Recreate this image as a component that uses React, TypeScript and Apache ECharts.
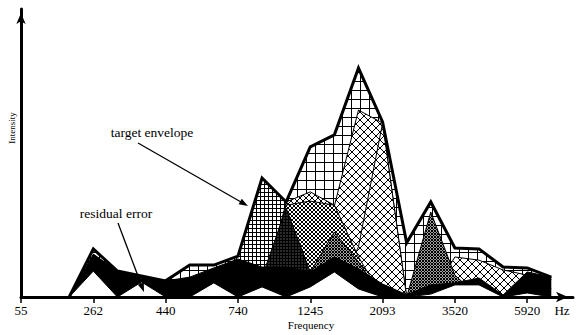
import React, { useEffect, useRef } from 'react';
import * as echarts from 'echarts';

// 23 frequency bins (3 bins per labelled tick)
const tickLabels = ['55', '262', '440', '740', '1245', '2093', '3520', '5920'];
const tickIdx = [0, 3, 6, 9, 12, 15, 18, 21];
const _ = null;

// target envelope (thick outline, coarse grid fill)
const envelope = [0, 0, 0, 16.7, 9.0, 7.3, 5.6, 11.1, 11.1, 14.2, 41.3, 33.0, 52.1, 56.3, 79.5, 60.8, 18.8, 33.0, 17.0, 16.7, 10.4, 10.1, 6.9];
// partial envelopes
const partFine = [_, _, _, _, _, _, _, _, 0, 14.2, 41.3, 33.0, 0, _, _, _, _, _, _, _, _, _, _];
const partSmallDiag = [_, _, _, _, _, _, _, _, _, _, 0, 33.0, 36.5, 31.9, 0, _, _, _, _, _, _, _, _];
const partDiagA = [_, _, _, _, _, _, _, _, _, _, _, _, 0, 31.6, 64.9, 60.4, 0, _, _, _, _, _, _];
const partDiagB = [_, _, _, _, _, _, _, _, _, _, _, _, _, 0, 17.4, 60.4, 0, _, _, _, _, _, _];
const partChecker = [_, _, _, _, _, _, _, _, _, _, 0, 31.9, 33.3, 31.9, 13.9, 0, _, _, _, _, _, _, _];
const partDark = [_, _, _, _, _, _, _, _, _, 0, 6.9, 30.9, 8.7, 0, _, _, _, _, _, _, _, _, _];
const partGrayMid = [_, _, _, _, _, _, _, _, _, _, _, _, 8.7, 22.6, 12.2, 0, _, _, _, _, _, _, _];
const partDiagRight = [_, _, _, _, _, _, _, _, _, _, _, _, _, _, _, _, _, 0, 13.9, 12.8, 9.4, 7.6, 0];
const partGrayRight = [_, _, _, _, _, _, _, _, _, _, _, _, _, _, _, _, 0, 29.5, 7.6, 0, _, _, _];
// residual error band (upper and lower edges)
const residualUpper = [0, 0, 0, 14.9, 9.0, 6.9, 5.6, 6.9, 10.1, 13.2, 10.4, 10.4, 8.7, 13.9, 9.7, 4.5, 0.8, 4.2, 4.9, 6.6, 0.7, 8.7, 6.9];
const residualLower = [0, 0, 0, 9.0, 0, 5.2, 0, 0, 4.9, 0, 3.5, 0, 3.5, 8.7, 2.8, 0, 0, 1.0, 4.2, 4.2, 0, 1.4, 0];

const FONT = '"Liberation Serif", "Times New Roman", serif';

function makeTile(size: number, paint: (x: number, y: number) => boolean, ink = '#000', paper = '#fff') {
  const c = document.createElement('canvas');
  c.width = size;
  c.height = size;
  const ctx = c.getContext('2d')!;
  ctx.fillStyle = paper;
  ctx.fillRect(0, 0, size, size);
  ctx.fillStyle = ink;
  for (let y = 0; y < size; y++) for (let x = 0; x < size; x++) if (paint(x, y)) ctx.fillRect(x, y, 1, 1);
  return { image: c.toDataURL(), repeat: 'repeat', imageWidth: size, imageHeight: size };
}

function toData(values: (number | null)[]) {
  const out: number[][] = [];
  values.forEach((v, i) => {
    if (v != null) out.push([i, v]);
  });
  return out;
}

function area(name: string, values: (number | null)[], fill: any, z: number) {
  return {
    name,
    type: 'line',
    symbol: 'none',
    silent: true,
    z,
    data: toData(values),
    lineStyle: { color: '#000', width: 1, join: 'miter' },
    areaStyle: { color: fill, opacity: 1 },
  };
}

export default function App() {
  const ref = useRef<HTMLDivElement>(null);
  useEffect(() => {
    if (!ref.current) return;
    const chart = echarts.init(ref.current, null, { renderer: 'svg' });

    const coarseGrid = makeTile(9, (x, y) => x === 0 || y === 0);
    const fineGrid = makeTile(4, (x, y) => x === 0 || y === 0);
    const coarseDiag = makeTile(8, (x, y) => x === y || x + y === 7);
    const smallDiag = makeTile(6, (x, y) => x === y || x + y === 5);
    const checker = makeTile(4, (x, y) => x === y || x + y === 3);
    const grayChecker = makeTile(3, (x, y) => x === y || x + y === 2, '#000', '#a0a0a0');
    const dark = makeTile(3, (x, y) => x === 0 || y === 0, '#000', '#2a2a2a');

    const arrowHead = (tx: number, ty: number, fx: number, fy: number, len = 9, half = 3.2) => {
      const dx = tx - fx, dy = ty - fy;
      const l = Math.sqrt(dx * dx + dy * dy);
      const ux = dx / l, uy = dy / l;
      const bx = tx - ux * len, by = ty - uy * len;
      return [
        [tx, ty],
        [bx - uy * half, by + ux * half],
        [bx + uy * half, by - ux * half],
      ];
    };

    chart.setOption({
      animation: false,
      backgroundColor: '#fff',
      grid: { left: 21, right: 4, top: 9, bottom: 38, containLabel: false, outerBoundsMode: 'none' },
      xAxis: {
        type: 'value',
        min: 0,
        max: 22.9,
        z: 100,
        axisLine: {
          show: true,
          onZero: true,
          lineStyle: { color: '#000', width: 3 },
          symbol: ['none', 'arrow'],
          symbolSize: [8, 12],
          symbolOffset: [0, -5],
        },
        axisTick: { show: true, customValues: tickIdx, length: 6, lineStyle: { color: '#000', width: 1.5 } },
        axisLabel: {
          show: true,
          customValues: tickIdx,
          formatter: (v: number) => tickLabels[Math.round(v / 3)] ?? '',
          color: '#000',
          fontFamily: FONT,
          fontSize: 13,
          margin: 7,
        },
        splitLine: { show: false },
      },
      yAxis: {
        type: 'value',
        min: 0,
        max: 100,
        z: 100,
        axisLine: {
          show: true,
          onZero: true,
          lineStyle: { color: '#000', width: 3 },
          symbol: ['none', 'arrow'],
          symbolSize: [7, 11],
          symbolOffset: [0, -4],
        },
        axisTick: { show: false },
        axisLabel: { show: false },
        splitLine: { show: false },
      },
      series: [
        area('target fill', envelope, coarseGrid, 10),
        area('fine', partFine, fineGrid, 11),
        area('small diag', partSmallDiag, smallDiag, 12),
        area('diag A', partDiagA, coarseDiag, 13),
        area('diag B', partDiagB, coarseDiag, 14),
        area('checker', partChecker, checker, 15),
        area('dark', partDark, dark, 16),
        area('gray mid', partGrayMid, grayChecker, 17),
        area('diag right', partDiagRight, coarseDiag, 18),
        area('gray right', partGrayRight, grayChecker, 19),
        area('residual error', residualUpper, '#000', 20),
        area('residual floor', residualLower, '#fff', 21),
        {
          name: 'target envelope',
          type: 'line',
          symbol: 'none',
          silent: true,
          z: 30,
          data: toData(envelope).slice(2),
          lineStyle: { color: '#000', width: 3, join: 'miter', miterLimit: 10 },
        },
      ],
      graphic: [
        { type: 'text', z: 200, x: 152, y: 132, style: { text: 'target envelope', fill: '#000', fontFamily: FONT, fontSize: 13.5, align: 'center', verticalAlign: 'middle' } },
        { type: 'line', z: 200, shape: { x1: 138, y1: 143, x2: 241, y2: 202 }, style: { stroke: '#000', lineWidth: 1.3 } },
        { type: 'polygon', z: 200, shape: { points: arrowHead(248, 206, 138, 143) }, style: { fill: '#000' } },
        { type: 'text', z: 200, x: 116, y: 213, style: { text: 'residual error', fill: '#000', fontFamily: FONT, fontSize: 13.5, align: 'center', verticalAlign: 'middle' } },
        { type: 'line', z: 200, shape: { x1: 118, y1: 223, x2: 141, y2: 284 }, style: { stroke: '#000', lineWidth: 1.3 } },
        { type: 'polygon', z: 200, shape: { points: arrowHead(144, 292, 118, 223) }, style: { fill: '#000' } },
        { type: 'text', z: 200, x: 12, y: 128, rotation: Math.PI / 2, style: { text: 'Intensity', fill: '#000', fontFamily: FONT, fontSize: 9, align: 'center', verticalAlign: 'middle' } },
        { type: 'text', z: 200, x: 311, y: 325, style: { text: 'Frequency', fill: '#000', fontFamily: FONT, fontSize: 11, align: 'center', verticalAlign: 'middle' } },
        { type: 'text', z: 200, x: 562, y: 310.5, style: { text: 'Hz', fill: '#000', fontFamily: FONT, fontSize: 13, align: 'center', verticalAlign: 'middle' } },
      ],
    });
    return () => chart.dispose();
  }, []);
  return <div ref={ref} style={{ position: 'fixed', left: 0, top: 0, width: 577, height: 335 }} />;
}
